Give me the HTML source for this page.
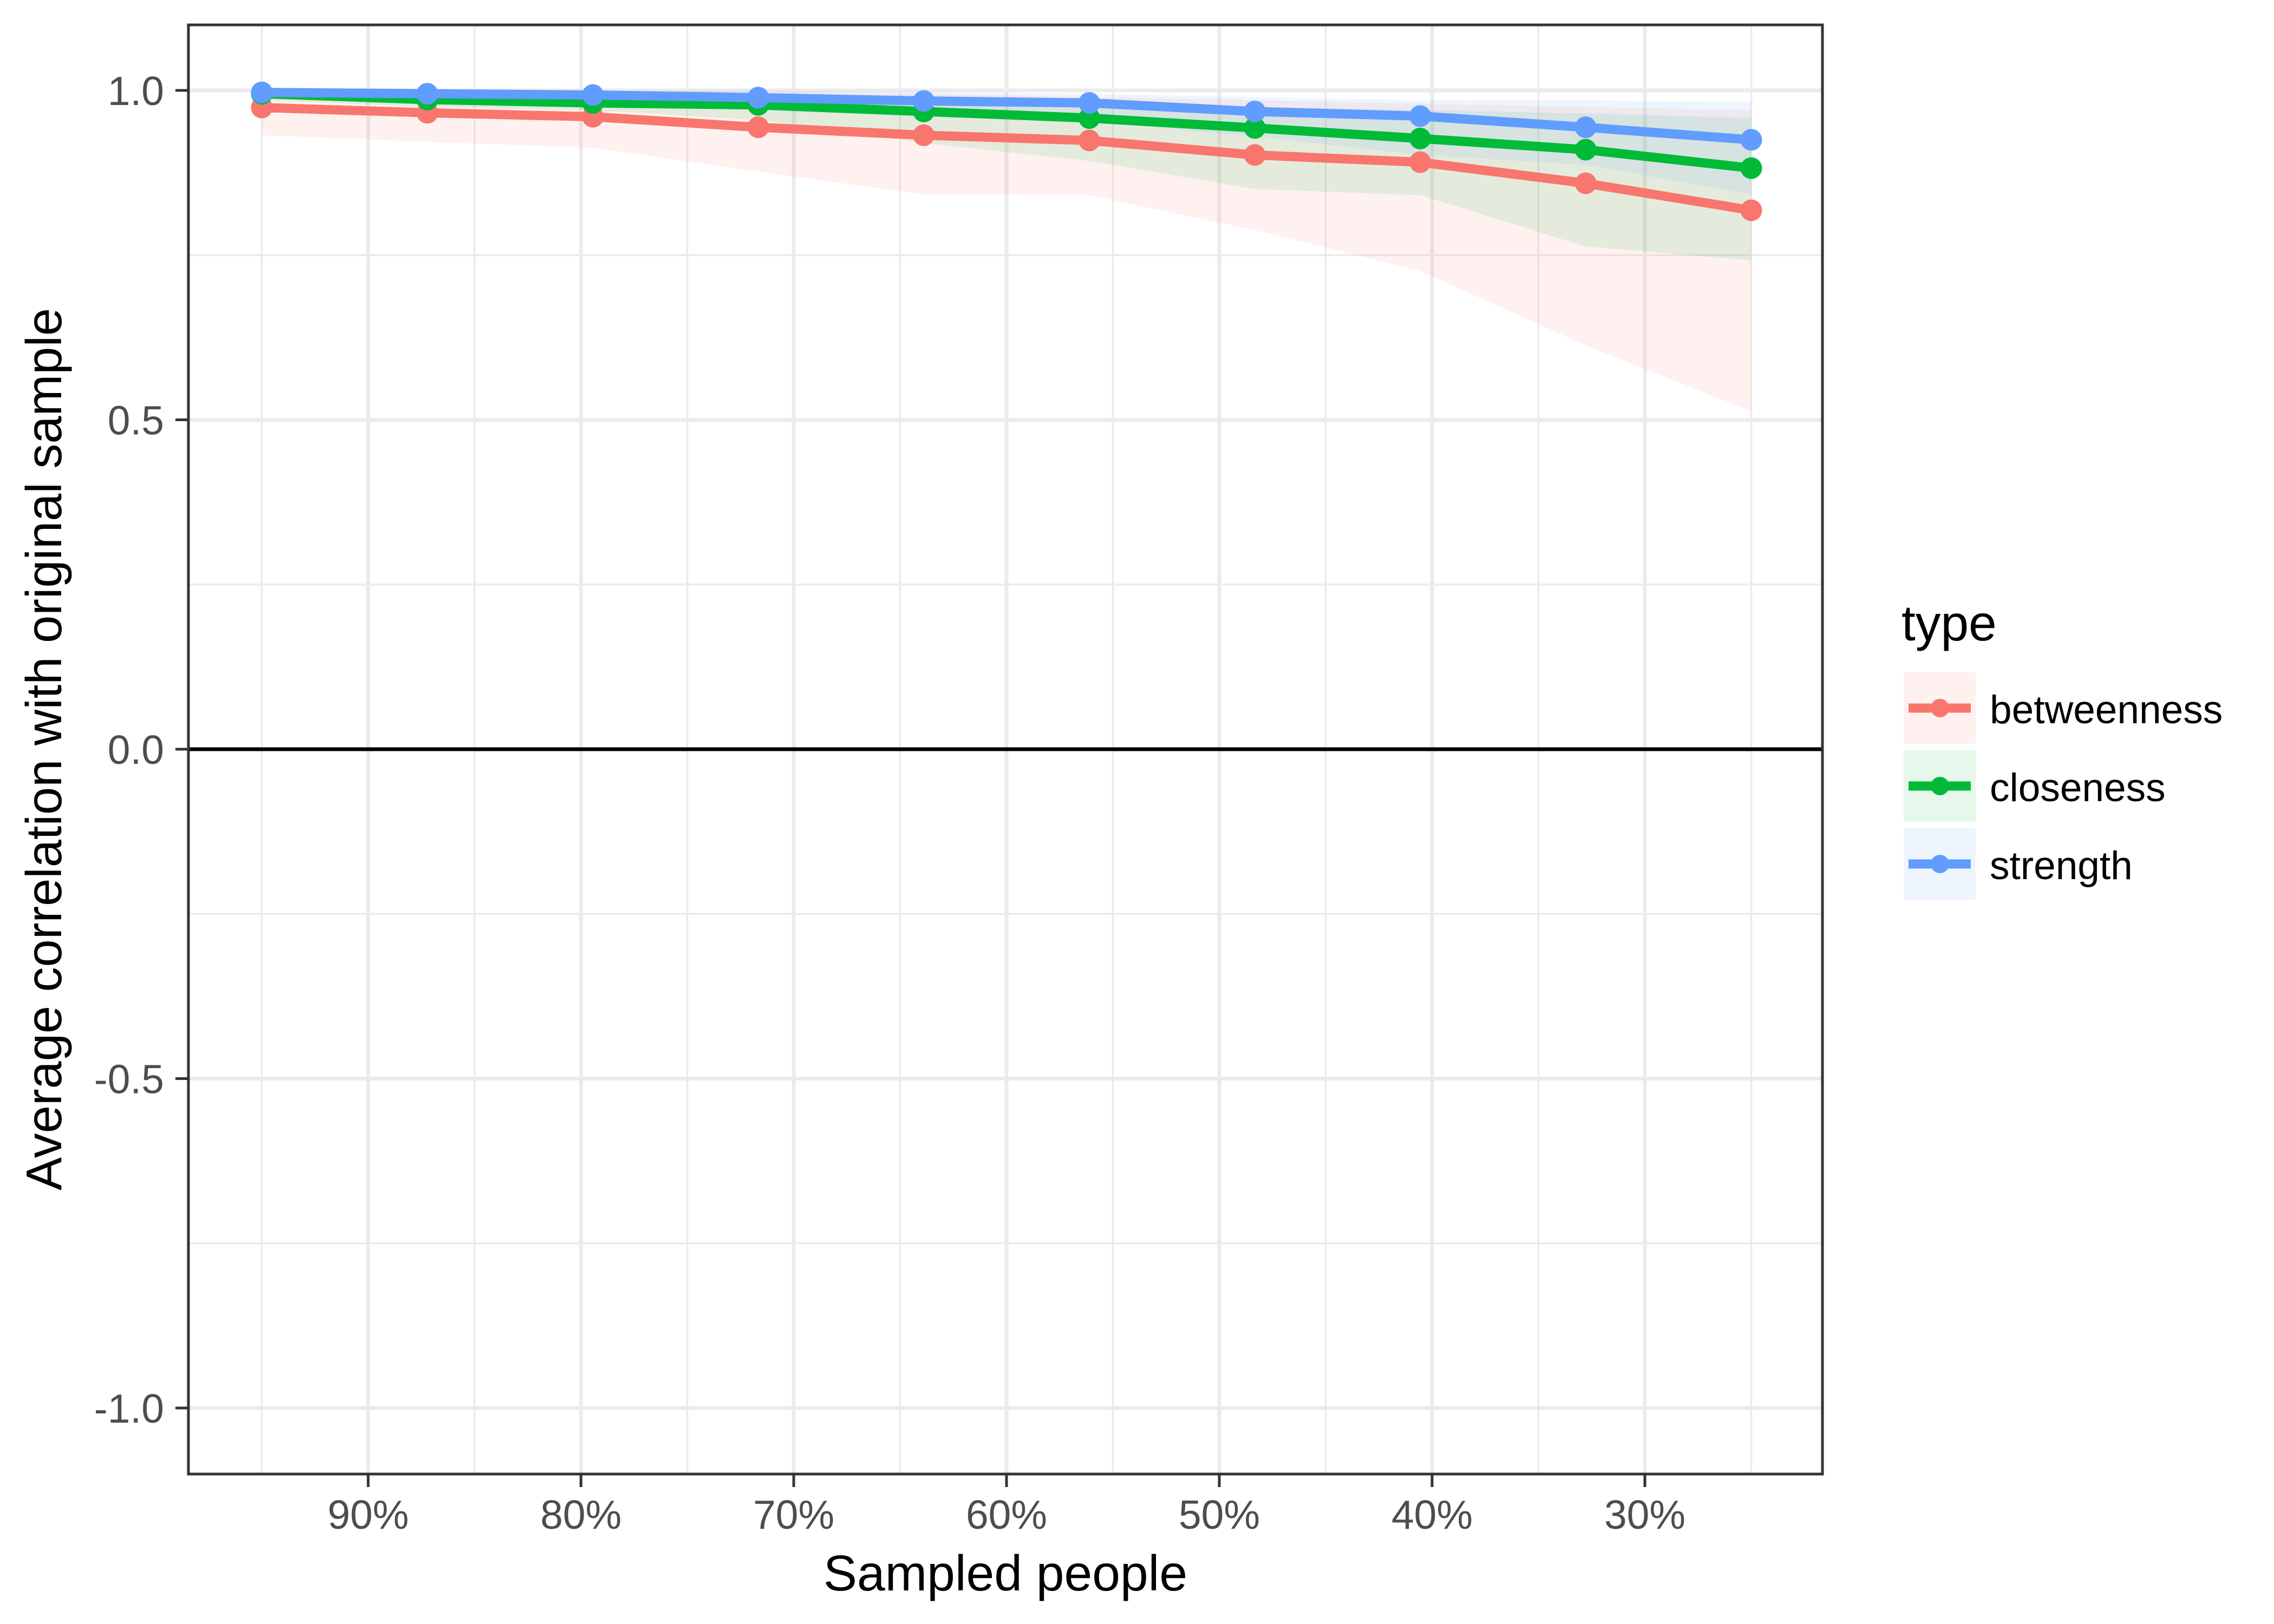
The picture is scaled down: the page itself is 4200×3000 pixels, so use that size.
<!DOCTYPE html>
<html><head><meta charset="utf-8"><style>
html,body{margin:0;padding:0;background:#fff;}
svg{display:block;font-family:"Liberation Sans",Arial,sans-serif;}
</style></head><body>
<svg id="chart" width="4200" height="3000" viewBox="0 0 4200 3000" xmlns="http://www.w3.org/2000/svg">
<rect x="0" y="0" width="4200" height="3000" fill="#fff"/>
<g id="grid"></g>
<g id="ribbons"></g>
<line id="zeroline" stroke="#000" stroke-width="7"/>
<g id="lines"></g>
<rect x="348" y="46" width="3018" height="2677" fill="none" stroke="#333" stroke-width="5"/>
<g id="axes"></g>
<text x="1857" y="2938" font-size="93" text-anchor="middle" fill="#000">Sampled people</text>
<text transform="translate(113,1384) rotate(-90)" font-size="93" text-anchor="middle" fill="#000" textLength="1630" lengthAdjust="spacingAndGlyphs">Average correlation with original sample</text>
<g id="legend">
<text x="3512" y="1183" font-size="93" fill="#000">type</text>
</g>
</svg>
<script>
const xPct = [95, 87.22, 79.44, 71.67, 63.89, 56.11, 48.33, 40.56, 32.78, 25];
const seriesNames = ["betweenness", "closeness", "strength"];
const betweenness = [0.974, 0.966, 0.960, 0.944, 0.932, 0.924, 0.902, 0.891, 0.859, 0.818];
const closeness = [0.995, 0.986, 0.981, 0.978, 0.968, 0.958, 0.943, 0.927, 0.910, 0.882];
const strength = [0.997, 0.995, 0.993, 0.989, 0.984, 0.981, 0.968, 0.961, 0.944, 0.925];
const betweennessLow = [0.932, 0.922, 0.913, 0.877, 0.842, 0.841, 0.788, 0.726, 0.613, 0.513];
const betweennessHigh = [1.0, 1.0, 1.0, 0.998, 0.995, 0.99, 0.985, 0.98, 0.975, 0.97];
const closenessLow = [0.985, 0.975, 0.97, 0.955, 0.92, 0.893, 0.850, 0.841, 0.763, 0.742];
const closenessHigh = [1.0, 1.0, 0.998, 0.995, 0.99, 0.985, 0.975, 0.97, 0.965, 0.958];
const strengthLow = [0.99, 0.985, 0.98, 0.97, 0.96, 0.953, 0.93, 0.902, 0.887, 0.842];
const strengthHigh = [1.0, 1.0, 1.0, 1.0, 0.998, 0.995, 0.99, 0.985, 0.985, 0.983];
const xTicks = [90, 80, 70, 60, 50, 40, 30];
const xMinor = [95, 85, 75, 65, 55, 45, 35, 25];
const yTicks = [-1, -0.5, 0, 0.5, 1];
const yTickLabels = ["-1.0", "-0.5", "0.0", "0.5", "1.0"];
const yMinor = [-0.75, -0.25, 0.25, 0.75];

const colors = ["#F8766D", "#00BA38", "#619CFF"];
const NS = "http://www.w3.org/2000/svg";
const L = 348, R = 3366, T = 46, B = 2723;
function X(p){ return 680 + (90 - p) * 39.3; }
function Y(v){ return 1384 - v * 1217; }
function mk(tag, attrs, parent){
  const e = document.createElementNS(NS, tag);
  for (const k in attrs) e.setAttribute(k, attrs[k]);
  parent.appendChild(e);
  return e;
}
const grid = document.getElementById('grid');
xMinor.forEach(p => {
  const l = mk('line', {x1: X(p), x2: X(p), y1: T, y2: B, stroke: '#EBEBEB', 'stroke-width': 3.5}, grid);
  
  
});
yMinor.forEach(v => {
  const l = mk('line', {x1: L, x2: R, y1: Y(v), y2: Y(v), stroke: '#EBEBEB', 'stroke-width': 3.5}, grid);
  
  
});
xTicks.forEach(p => {
  const l = mk('line', {x1: X(p), x2: X(p), y1: T, y2: B, stroke: '#EBEBEB', 'stroke-width': 7}, grid);
  
  
});
yTicks.forEach(v => {
  const l = mk('line', {x1: L, x2: R, y1: Y(v), y2: Y(v), stroke: '#EBEBEB', 'stroke-width': 7}, grid);
  
  
});
const zl = document.getElementById('zeroline');
zl.setAttribute('x1', L); zl.setAttribute('x2', R);
zl.setAttribute('y1', Y(0)); zl.setAttribute('y2', Y(0));

const lows = [betweennessLow, closenessLow, strengthLow];
const highs = [betweennessHigh, closenessHigh, strengthHigh];
const vals = [betweenness, closeness, strength];
const rib = document.getElementById('ribbons');
lows.forEach((lo, s) => {
  const hi = highs[s];
  let pts = xPct.map((p, i) => X(p) + ',' + Y(hi[i]));
  pts = pts.concat(xPct.map((p, i) => X(p) + ',' + Y(lo[i])).reverse());
  const pg = mk('polygon', {points: pts.join(' '), fill: colors[s], 'fill-opacity': 0.1}, rib);
  
  
});
const lg = document.getElementById('lines');
vals.forEach((vs, s) => {
  const pl = mk('polyline', {points: xPct.map((p, i) => X(p) + ',' + Y(vs[i])).join(' '), fill: 'none', stroke: colors[s], 'stroke-width': 17, 'stroke-linejoin': 'round'}, lg);
  
  
  vs.forEach((v, i) => {
    const c = mk('circle', {cx: X(xPct[i]), cy: Y(v), r: 20, fill: colors[s]}, lg);
    
    
  });
});
const ax = document.getElementById('axes');
xTicks.forEach(p => {
  const t = mk('line', {x1: X(p), x2: X(p), y1: B, y2: B + 24, stroke: '#333', 'stroke-width': 5}, ax);
  
  
  const tx = mk('text', {x: X(p), y: 2824, 'font-size': 75, 'text-anchor': 'middle', fill: '#4D4D4D'}, ax);
  tx.textContent = p + '%';
  
  
});
yTicks.forEach((v, i) => {
  const t = mk('line', {x1: L - 24, x2: L, y1: Y(v), y2: Y(v), stroke: '#333', 'stroke-width': 5}, ax);
  
  
  const tx = mk('text', {x: 303, y: Y(v) + 27, 'font-size': 75, 'text-anchor': 'end', fill: '#4D4D4D'}, ax);
  tx.textContent = yTickLabels[i];
  
  
});
const leg = document.getElementById('legend');
seriesNames.forEach((n, s) => {
  const y0 = 1242 + s * 144;
  const g = mk('g', {}, leg);
  
  
  const bx = mk('rect', {x: 3516, y: y0, width: 133, height: 132, fill: colors[s], 'fill-opacity': 0.1}, g);
  
  
  const ln = mk('line', {x1: 3525, x2: 3640, y1: y0 + 66, y2: y0 + 66, stroke: colors[s], 'stroke-width': 17}, g);
  
  
  const c = mk('circle', {cx: 3583, cy: y0 + 66, r: 17, fill: colors[s]}, g);
  
  
  const tx = mk('text', {x: 3675, y: y0 + 94, 'font-size': 73, fill: '#000'}, g);
  tx.textContent = n;
  
  
});
</script>
</body></html>
